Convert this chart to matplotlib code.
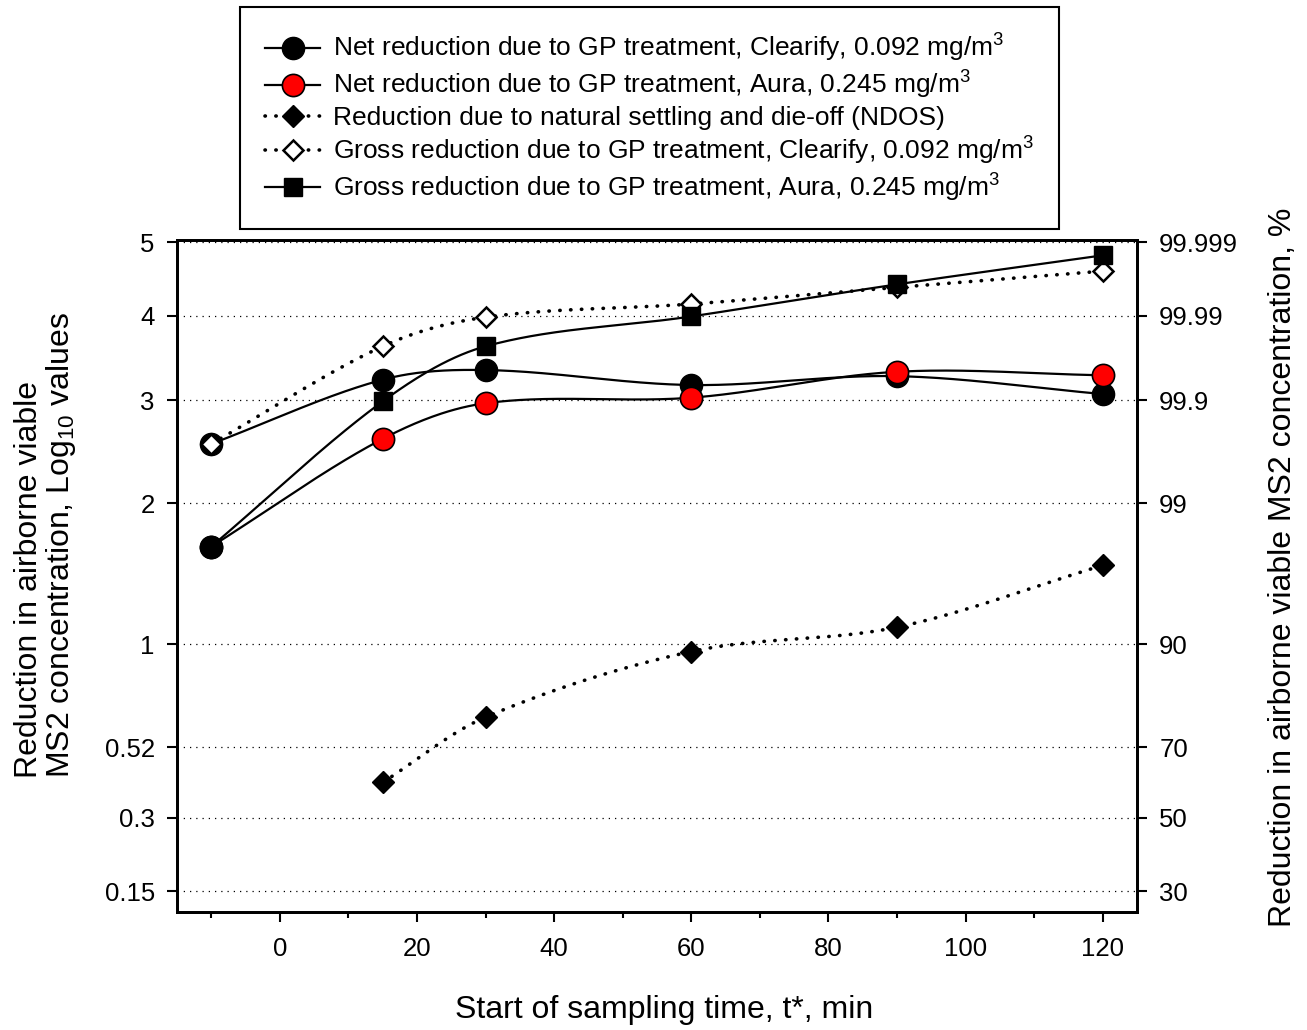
import numpy as np
import matplotlib
matplotlib.use("Agg")
import matplotlib.pyplot as plt
from matplotlib.ticker import FixedLocator, NullLocator, FixedFormatter
from matplotlib.legend_handler import HandlerTuple
from statistics import NormalDist

plt.rcParams['font.family'] = ['Liberation Sans', 'DejaVu Sans']
plt.rcParams['mathtext.fontset'] = 'custom'
plt.rcParams['mathtext.rm'] = 'Liberation Sans'
plt.rcParams['mathtext.it'] = 'Liberation Sans'

# ---------------- data ----------------
time_all = [-10, 15, 30, 60, 90, 120]
time_ndos = [15, 30, 60, 90, 120]
net_clearify = [2.55, 3.23, 3.34, 3.17, 3.27, 3.07]
net_aura = [1.65, 2.60, 2.97, 3.03, 3.32, 3.28]
ndos = [0.40, 0.64, 0.96, 1.10, 1.51]
gross_clearify = [2.55, 3.62, 3.98, 4.15, 4.37, 4.59]
gross_aura = [1.65, 2.99, 3.62, 3.99, 4.41, 4.81]

log_ticks = [0.15, 0.3, 0.52, 1, 2, 3, 4, 5]
log_labels = ['0.15', '0.3', '0.52', '1', '2', '3', '4', '5']
pct_labels = ['30', '50', '70', '90', '99', '99.9', '99.99', '99.999']
x_major = [0, 20, 40, 60, 80, 100, 120]
x_minor = [-10, 10, 30, 50, 70, 90, 110]

labels = [
    'Net reduction due to GP treatment, Clearify, 0.092 mg/m$^3$',
    'Net reduction due to GP treatment, Aura, 0.245 mg/m$^3$',
    'Reduction due to natural settling and die-off (NDOS)',
    'Gross reduction due to GP treatment, Clearify, 0.092 mg/m$^3$',
    'Gross reduction due to GP treatment, Aura, 0.245 mg/m$^3$',
]

# ---------------- probit-of-percent scale ----------------
_nd = NormalDist()


def fwd(L):
    L = np.asarray(L, dtype=float)
    flat = L.ravel()
    out = np.empty_like(flat)
    for i, v in enumerate(flat):
        if not np.isfinite(v):
            out[i] = np.nan
            continue
        q = 10.0 ** (-v)
        q = min(max(q, 1e-15), 1 - 1e-15)
        out[i] = -_nd.inv_cdf(q)
    return out.reshape(L.shape)


def inv(z):
    z = np.asarray(z, dtype=float)
    flat = z.ravel()
    out = np.empty_like(flat)
    for i, v in enumerate(flat):
        if not np.isfinite(v):
            out[i] = np.nan
            continue
        q = _nd.cdf(-v)
        q = max(q, 1e-300)
        out[i] = -np.log10(q)
    return out.reshape(z.shape)


def hermite_curve(x, y, xs):
    """Cubic Hermite curve with central-difference (Catmull-Rom like) tangents."""
    x = np.asarray(x, float)
    y = np.asarray(y, float)
    n = len(x)
    m = np.empty(n)
    m[0] = (y[1] - y[0]) / (x[1] - x[0])
    m[-1] = (y[-1] - y[-2]) / (x[-1] - x[-2])
    for i in range(1, n - 1):
        m[i] = (y[i + 1] - y[i - 1]) / (x[i + 1] - x[i - 1])
    idx = np.clip(np.searchsorted(x, xs) - 1, 0, n - 2)
    h = x[idx + 1] - x[idx]
    t = (xs - x[idx]) / h
    h00 = 2 * t ** 3 - 3 * t ** 2 + 1
    h10 = t ** 3 - 2 * t ** 2 + t
    h01 = -2 * t ** 3 + 3 * t ** 2
    h11 = t ** 3 - t ** 2
    return h00 * y[idx] + h10 * h * m[idx] + h01 * y[idx + 1] + h11 * h * m[idx + 1]


def smooth(x, L):
    xs = np.linspace(x[0], x[-1], 400)
    zs = hermite_curve(x, fwd(L), xs)
    return xs, inv(zs)


# ---------------- figure ----------------
fig = plt.figure(figsize=(13.07, 10.30), dpi=100)
ax = fig.add_axes([177 / 1307, 1 - 912 / 1030, (1137 - 177) / 1307, (912 - 240) / 1030])
ax.set_yscale('function', functions=(fwd, inv))

solid = dict(color='black', lw=1.6, zorder=2)
dotted = dict(color='black', lw=2.6, linestyle=(0, (0.1, 2.9)), dash_capstyle='round', zorder=2)

l1, = ax.plot(*smooth(time_all, net_clearify), **solid)
l2, = ax.plot(*smooth(time_all, net_aura), **solid)
l3, = ax.plot(*smooth(time_ndos, ndos), **dotted)
l4, = ax.plot(*smooth(time_all, gross_clearify), **dotted)
l5, = ax.plot(*smooth(time_all, gross_aura), **solid)

m1, = ax.plot(time_all, net_clearify, 'o', ms=16, mfc='black', mec='black', mew=1, zorder=3)
m2, = ax.plot(time_all, net_aura, 'o', ms=16, mfc='red', mec='black', mew=1.2, zorder=4)
m3, = ax.plot(time_ndos, ndos, 'D', ms=11, mfc='black', mec='black', mew=1, zorder=5)
m4, = ax.plot(time_all, gross_clearify, 'D', ms=10, mfc='white', mec='black', mew=1.8, zorder=5)
m5, = ax.plot(time_all[1:], gross_aura[1:], 's', ms=12.5, mfc='black', mec='black', mew=1, zorder=6)
ax.plot(time_all[:1], gross_aura[:1], 'o', ms=16, mfc='black', mec='black', mew=1, zorder=7)

# limits
ax.set_xlim(-15, 125)
ax.set_ylim(inv(np.array(-0.703))[()], inv(np.array(4.28))[()])

# ticks
ax.xaxis.set_major_locator(FixedLocator(x_major))
ax.xaxis.set_minor_locator(FixedLocator(x_minor))
ax.yaxis.set_major_locator(FixedLocator(log_ticks))
ax.yaxis.set_major_formatter(FixedFormatter(log_labels))
ax.yaxis.set_minor_locator(NullLocator())
ax.tick_params(axis='both', which='major', direction='out', length=7, width=1.5,
               labelsize=18.5, pad=9)
ax.tick_params(axis='x', which='minor', direction='out', length=4.5, width=1.5)
ax.tick_params(axis='y', which='both', right=False)
ax.tick_params(axis='x', pad=11)
for s in ax.spines.values():
    s.set_linewidth(2)

ax.grid(axis='y', which='major', color='black', lw=0.9, linestyle=(0, (1, 4)))
ax.set_axisbelow(True)

ax2 = ax.twinx()
ax2.set_yscale('function', functions=(fwd, inv))
ax2.set_ylim(ax.get_ylim())
ax2.yaxis.set_major_locator(FixedLocator(log_ticks))
ax2.yaxis.set_major_formatter(FixedFormatter(pct_labels))
ax2.yaxis.set_minor_locator(NullLocator())
ax2.tick_params(axis='y', which='major', direction='out', length=7, width=1.5,
                labelsize=18.5, pad=9)
for s in ax2.spines.values():
    s.set_linewidth(2)

# axis labels
fig.text(664 / 1307, 1 - 1010 / 1030, 'Start of sampling time, t*, min',
         ha='center', va='center', fontsize=23)
fig.text(46 / 1307, 1 - 545 / 1030,
         'Reduction in airborne viable\nMS2 concentration, Log$_{10}$ values',
         ha='center', va='center', rotation=90, fontsize=23, multialignment='left',
         linespacing=1.0)
fig.text(1283 / 1307, 1 - 567 / 1030, 'Reduction in airborne viable MS2 concentration, %',
         ha='center', va='center', rotation=90, fontsize=23)

# legend
leg = fig.legend([(l1, m1), (l2, m2), (l3, m3), (l4, m4), (l5, m5)], labels,
                 loc='upper left', bbox_to_anchor=(240 / 1307, 1 - 7 / 1030),
                 handler_map={tuple: HandlerTuple(ndivide=1, pad=0)},
                 numpoints=1, fontsize=19, frameon=True, fancybox=False,
                 edgecolor='black', framealpha=1, handlelength=2.08,
                 handletextpad=0.5, labelspacing=0.18, borderpad=0.95, borderaxespad=0)
leg.get_frame().set_linewidth(1.5)

fig.savefig('out.png', dpi=100)
